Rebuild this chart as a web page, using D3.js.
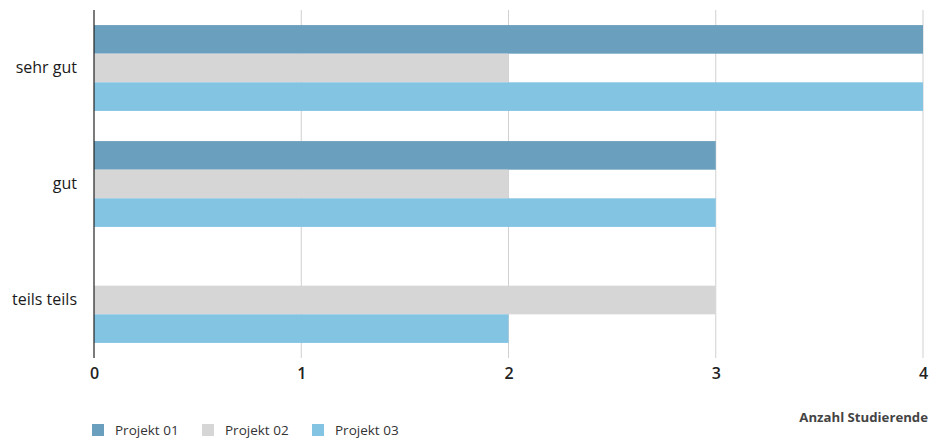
<!DOCTYPE html>
<html>
<head>
<meta charset="utf-8">
<script src="https://cdn.jsdelivr.net/npm/d3@7"></script>
<style>
  html, body { margin: 0; padding: 0; background: #fff; }
  svg { display: block; font-family: "Open Sans", "Noto Sans", sans-serif; }
</style>
</head>
<body>
<svg id="chart" width="930" height="438"></svg>
<script>
// Bewertungen je Projekt (Anzahl Studierende)
const categories = ["sehr gut", "gut", "teils teils"];
const seriesNames = ["Projekt 01", "Projekt 02", "Projekt 03"];
const projekt01 = [4, 3, 0];
const projekt02 = [2, 2, 3];
const projekt03 = [4, 3, 2];
const xTicks = [0, 1, 2, 3, 4];
const axisTitle = "Anzahl Studierende";

const seriesValues = [projekt01, projekt02, projekt03];
const colors = ["#6aa0be", "#d6d6d6", "#83c4e3"];

const svg = d3.select("#chart");
const plotLeft = 94, plotRight = 923, plotTop = 10, plotBottom = 358;

const x = d3.scaleLinear().domain([0, 4]).range([plotLeft, plotRight]);
const y = d3.scaleBand().domain(categories).range([plotTop, plotBottom])
  .paddingInner(0.26).paddingOuter(0.13);
const ySub = d3.scaleBand().domain(seriesNames).range([0, y.bandwidth()]);

// vertical gridlines
svg.append("g").selectAll("line")
  .data(xTicks.filter(t => t > 0))
  .join("line")
  .attr("x1", d => x(d)).attr("x2", d => x(d))
  .attr("y1", plotTop).attr("y2", plotBottom)
  .attr("stroke", "#d0d0d0").attr("stroke-width", 1);

// bars
const groups = svg.append("g").selectAll("g")
  .data(categories)
  .join("g")
  .attr("transform", d => `translate(0,${y(d)})`);

groups.selectAll("rect")
  .data((c, i) => seriesNames.map((s, j) => ({ s, j, v: seriesValues[j][i] })))
  .join("rect")
  .attr("x", x(0))
  .attr("y", d => ySub(d.s))
  .attr("width", d => x(d.v) - x(0))
  .attr("height", ySub.bandwidth())
  .attr("fill", d => colors[d.j]);

// baseline axis
svg.append("line")
  .attr("x1", x(0)).attr("x2", x(0))
  .attr("y1", plotTop).attr("y2", plotBottom)
  .attr("stroke", "#222").attr("stroke-width", 1.2);

// x tick labels
const xAxis = d3.axisBottom(x).tickValues(xTicks).tickSize(0).tickPadding(0).tickFormat(d3.format("d"));
const gx = svg.append("g").attr("transform", `translate(0,${plotBottom + 10})`).call(xAxis);
gx.select(".domain").remove();
gx.selectAll("text")
  .attr("font-size", 16).attr("font-weight", 600)
  .attr("fill", "#222").attr("font-family", "\"Open Sans\", sans-serif");

// category labels
const yAxis = d3.axisLeft(y).tickSize(0).tickPadding(0);
const gy = svg.append("g").attr("transform", `translate(${x(0) - 17},0)`).call(yAxis);
gy.select(".domain").remove();
gy.selectAll("text")
  .attr("font-size", 16)
  .attr("fill", "#1a1a1a").attr("font-family", "\"Open Sans\", sans-serif");

// axis title
svg.append("text")
  .attr("x", 928).attr("y", 422)
  .attr("text-anchor", "end")
  .attr("font-size", 13.2).attr("font-weight", 700)
  .attr("fill", "#444")
  .text(axisTitle);

// legend
const legend = svg.append("g").attr("transform", "translate(92,424)");
const items = legend.selectAll("g")
  .data(seriesNames)
  .join("g")
  .attr("transform", (d, i) => `translate(${i * 110},0)`);
items.append("rect")
  .attr("width", 12).attr("height", 12)
  .attr("fill", (d, i) => colors[i]);
items.append("text")
  .attr("x", 23).attr("y", 10.5)
  .attr("font-size", 13.5)
  .attr("fill", "#333")
  .text(d => d);
</script>
</body>
</html>
